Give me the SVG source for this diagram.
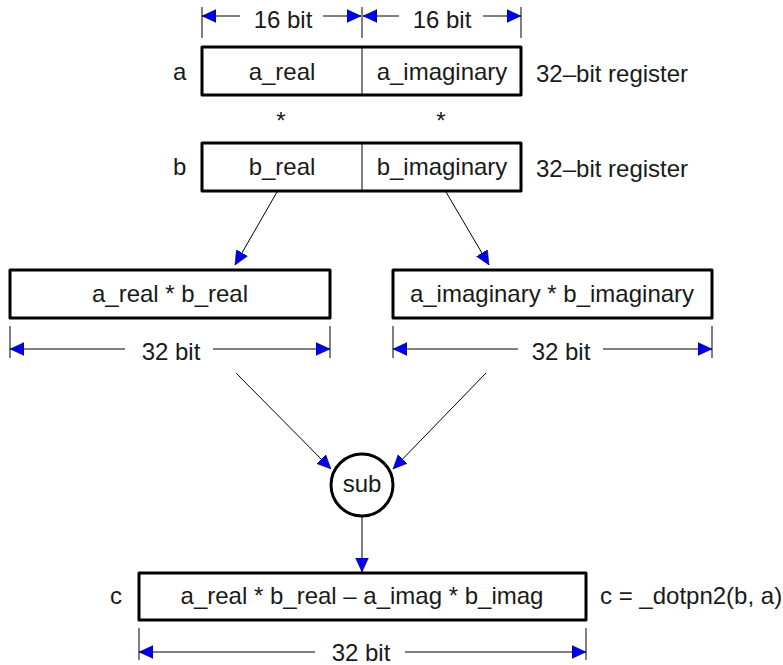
<svg xmlns="http://www.w3.org/2000/svg" width="783" height="665" viewBox="0 0 783 665">
<style>
text{font-family:"Liberation Sans",Arial,sans-serif;font-size:24px;fill:#1a1a1a}
.box{fill:#fff;stroke:#000;stroke-width:3;stroke-linejoin:round}
.thin{stroke:#000;stroke-width:1;fill:none}
.arr{stroke:#000;stroke-width:1;fill:none;marker-end:url(#ah)}
.ds{stroke:#000;stroke-width:1;fill:none;marker-start:url(#ahs)}
.de{stroke:#000;stroke-width:1;fill:none;marker-end:url(#ah)}
.mid{text-anchor:middle}
</style>
<defs>
<marker id="ah" markerUnits="userSpaceOnUse" markerWidth="14" markerHeight="14" viewBox="0 0 12 12" refX="12" refY="6" orient="auto">
<path d="M0,0.5 L12,6 L0,11.5 z" fill="#0000ee" stroke="#000" stroke-width="0.4"/>
</marker>
<marker id="ahs" markerUnits="userSpaceOnUse" markerWidth="14" markerHeight="14" viewBox="0 0 12 12" refX="12" refY="6" orient="auto-start-reverse">
<path d="M0,0.5 L12,6 L0,11.5 z" fill="#0000ee" stroke="#000" stroke-width="0.4"/>
</marker>
</defs>

<g id="dim-top">
<line class="thin" x1="202" y1="7" x2="202" y2="38"/>
<line class="thin" x1="362" y1="7" x2="362" y2="38"/>
<line class="thin" x1="521" y1="7" x2="521" y2="38"/>
<line class="ds" x1="202" y1="16" x2="240" y2="16"/>
<line class="de" x1="323" y1="16" x2="361" y2="16"/>
<line class="ds" x1="363" y1="16" x2="399" y2="16"/>
<line class="de" x1="483" y1="16" x2="521" y2="16"/>
<text class="mid" x="283" y="28">16 bit</text>
<text class="mid" x="442" y="28">16 bit</text>
</g>

<g id="reg-a">
<text x="173" y="80">a</text>
<rect class="box" x="202" y="47" width="319" height="48"/>
<line class="thin" x1="362" y1="47" x2="362" y2="95"/>
<text class="mid" x="282" y="80">a_real</text>
<text class="mid" x="442" y="80">a_imaginary</text>
<text x="536" y="82">32–bit register</text>
</g>

<g id="stars">
<text class="mid" x="281" y="129">*</text>
<text class="mid" x="441" y="129">*</text>
</g>

<g id="reg-b">
<text x="173" y="175">b</text>
<rect class="box" x="202" y="143" width="319" height="48"/>
<line class="thin" x1="362" y1="143" x2="362" y2="191"/>
<text class="mid" x="282" y="175">b_real</text>
<text class="mid" x="442" y="175">b_imaginary</text>
<text x="536" y="177">32–bit register</text>
</g>

<g id="prod-real">
<rect class="box" x="10" y="270" width="320" height="48"/>
<text class="mid" x="170" y="302">a_real * b_real</text>
<line class="thin" x1="10" y1="326" x2="10" y2="358"/>
<line class="thin" x1="330" y1="326" x2="330" y2="358"/>
<line class="ds" x1="10" y1="349" x2="125" y2="349"/>
<line class="de" x1="213" y1="349" x2="330" y2="349"/>
<text class="mid" x="171" y="360">32 bit</text>
</g>

<g id="prod-imag">
<rect class="box" x="393" y="270" width="319" height="48"/>
<text class="mid" x="552" y="302">a_imaginary * b_imaginary</text>
<line class="thin" x1="393" y1="326" x2="393" y2="358"/>
<line class="thin" x1="712" y1="326" x2="712" y2="358"/>
<line class="ds" x1="393" y1="349" x2="518" y2="349"/>
<line class="de" x1="603" y1="349" x2="712" y2="349"/>
<text class="mid" x="561" y="360">32 bit</text>
</g>

<g id="sub">
<circle cx="362" cy="485" r="31" fill="#fff" stroke="#000" stroke-width="3"/>
<text class="mid" x="362" y="492">sub</text>
</g>

<g id="reg-c">
<text x="110" y="604">c</text>
<rect class="box" x="139" y="573" width="447" height="47"/>
<text class="mid" x="362" y="604">a_real * b_real – a_imag * b_imag</text>
<text x="600" y="604">c = _dotpn2(b, a)</text>
<line class="thin" x1="139" y1="628" x2="139" y2="660"/>
<line class="thin" x1="586" y1="628" x2="586" y2="660"/>
<line class="ds" x1="139" y1="652" x2="315" y2="652"/>
<line class="de" x1="405" y1="652" x2="586" y2="652"/>
<text class="mid" x="361" y="661">32 bit</text>
</g>

<g id="connectors">
<line class="arr" x1="277" y1="192" x2="235" y2="265"/>
<line class="arr" x1="446" y1="192" x2="489" y2="265"/>
<line class="arr" x1="236" y1="373" x2="331" y2="469"/>
<line class="arr" x1="486" y1="373" x2="393" y2="469"/>
<line class="arr" x1="362" y1="517" x2="362" y2="572"/>
</g>
</svg>
